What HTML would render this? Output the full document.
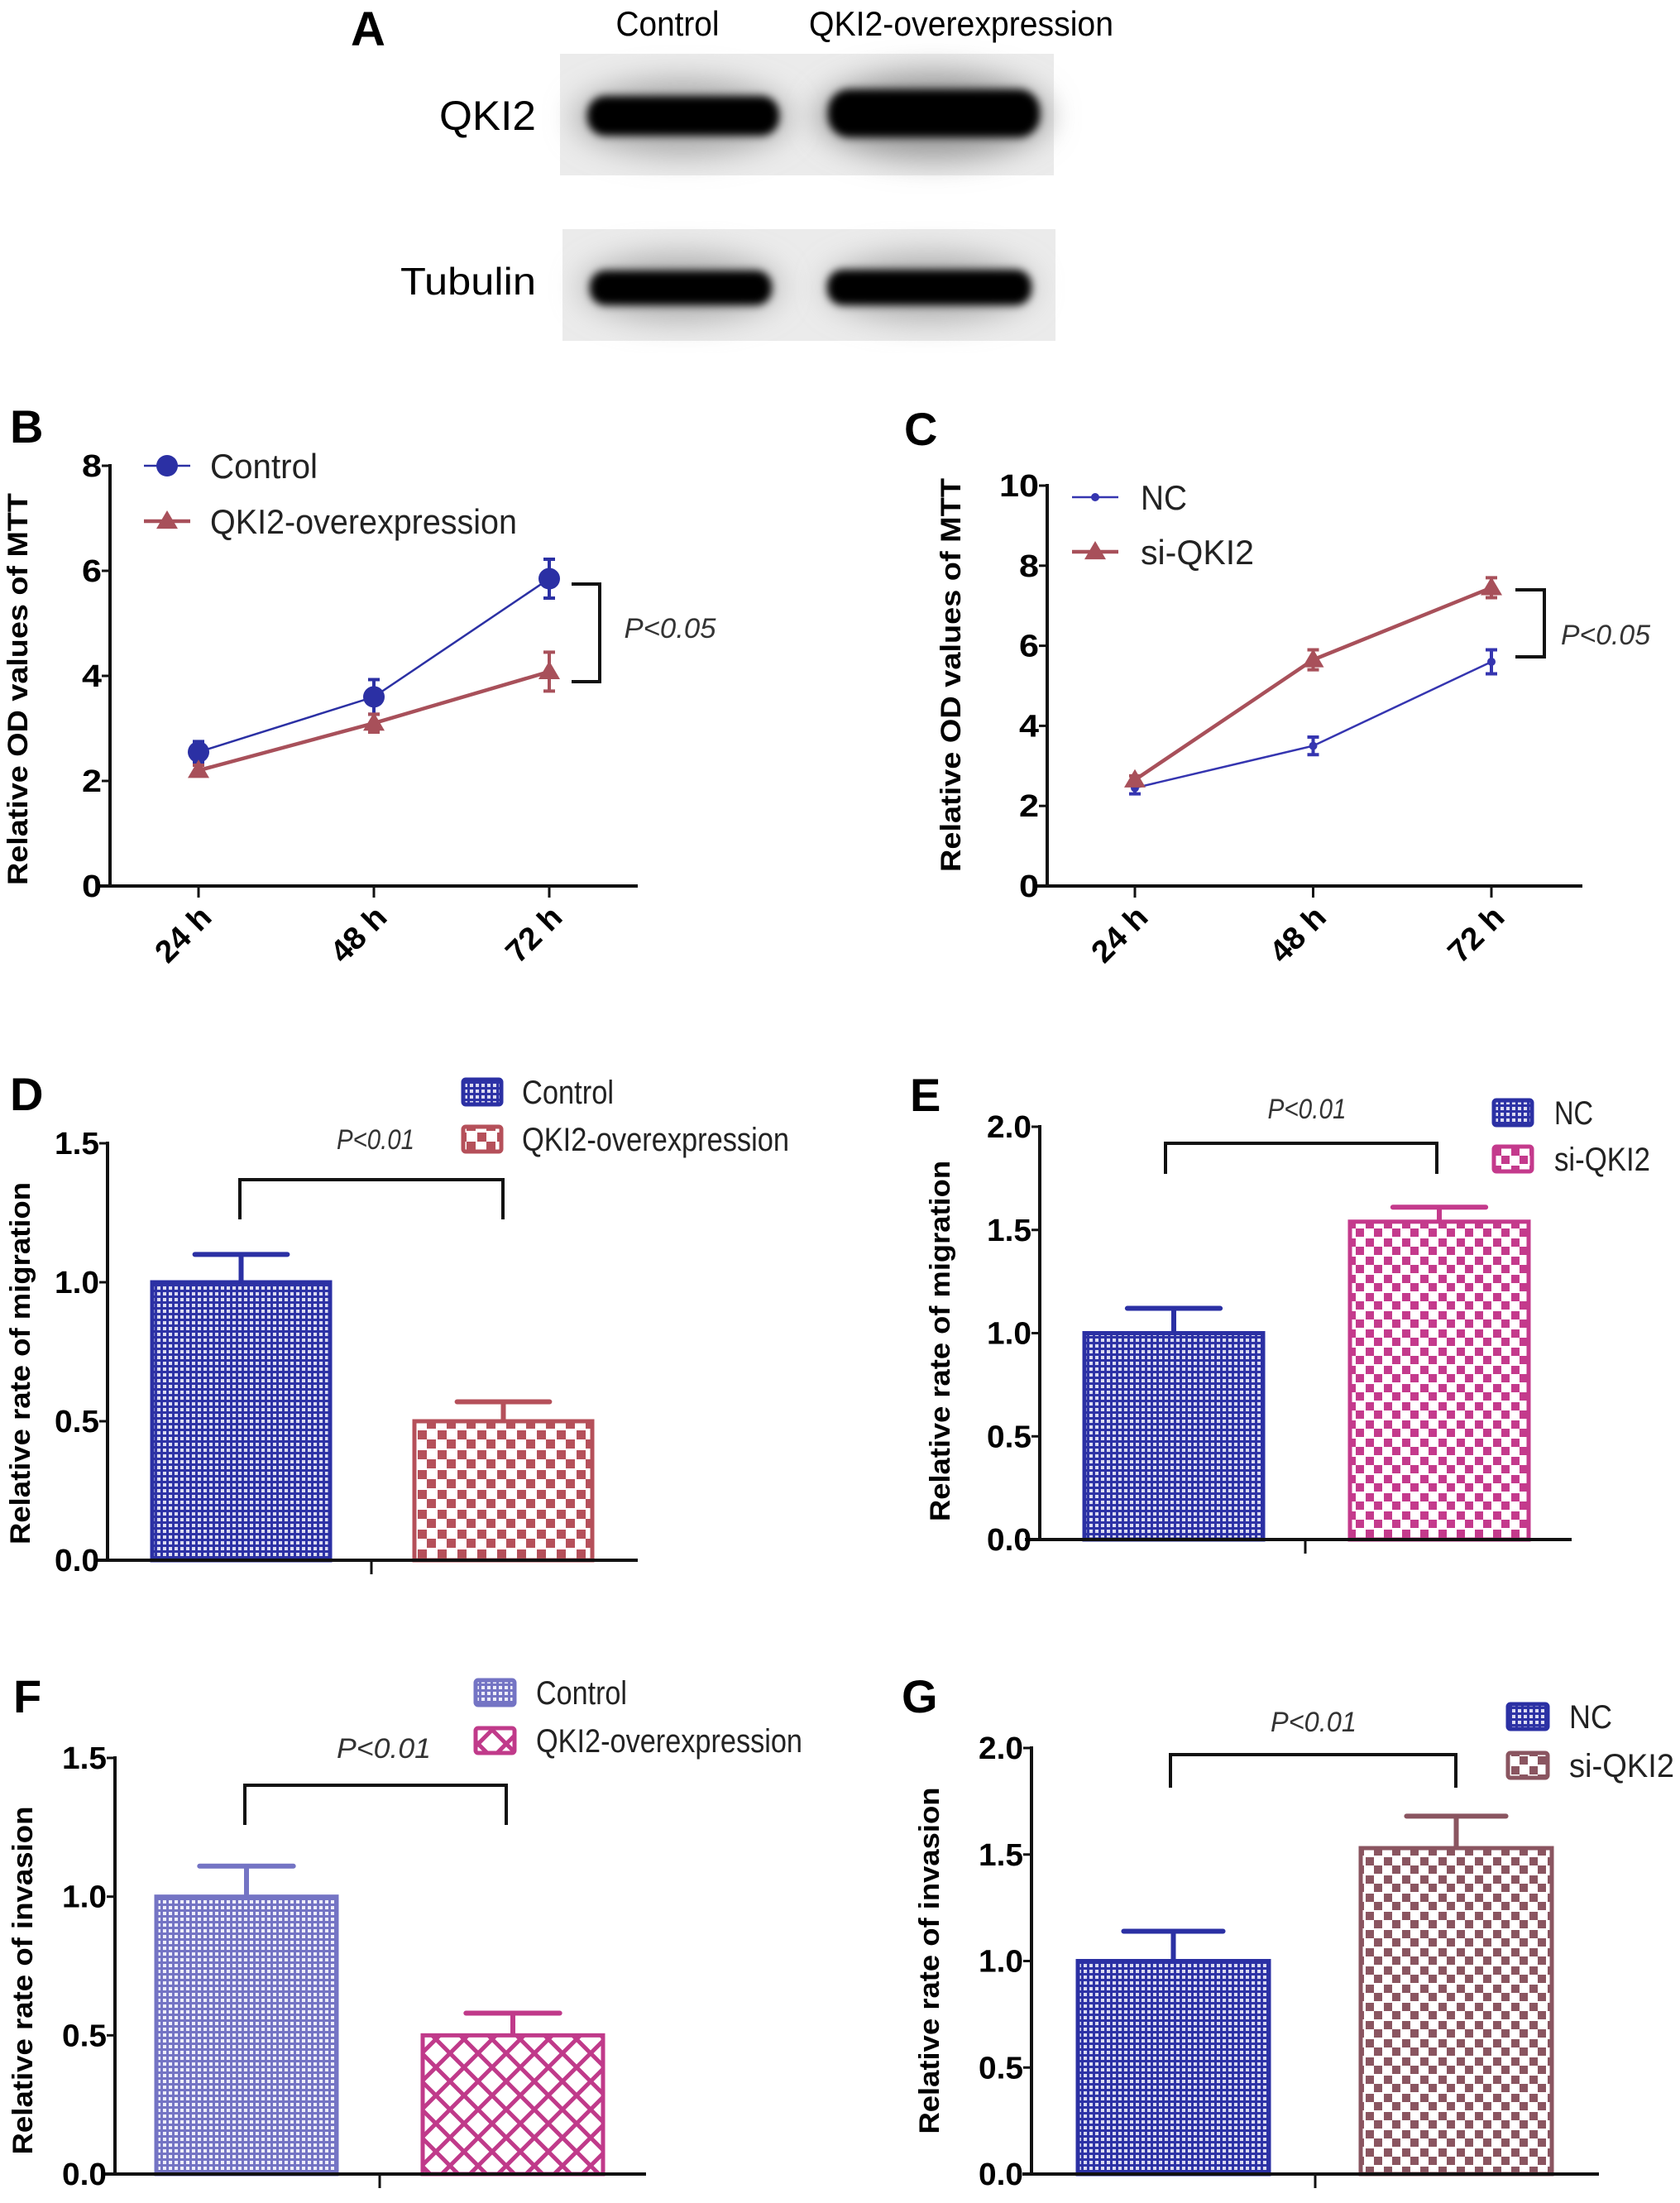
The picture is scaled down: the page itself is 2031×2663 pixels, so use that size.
<!DOCTYPE html>
<html><head><meta charset="utf-8">
<style>
html,body{margin:0;padding:0;background:#fff;}
svg{display:block;font-family:"Liberation Sans",sans-serif;}
</style></head>
<body>
<svg id="fig" width="2031" height="2663" viewBox="0 0 2031 2663" xmlns="http://www.w3.org/2000/svg">
<defs>
  <filter id="blur8" x="-20%" y="-50%" width="140%" height="200%"><feGaussianBlur stdDeviation="5"/></filter>
  <filter id="blur20" x="-20%" y="-50%" width="140%" height="200%"><feGaussianBlur stdDeviation="18"/></filter>
  <pattern id="dotBlue" width="7" height="7" patternUnits="userSpaceOnUse"><rect width="7" height="7" fill="#2e33a6"/><rect x="1" y="1" width="4" height="4" fill="#dcdcf2"/></pattern>
  <pattern id="dotLav" width="7" height="7" patternUnits="userSpaceOnUse"><rect width="7" height="7" fill="#7474c4"/><rect x="1" y="1" width="4" height="4" fill="#eeeefa"/></pattern>
  <pattern id="chkRed" width="24" height="24" patternUnits="userSpaceOnUse"><rect width="24" height="24" fill="#fff"/><rect x="1" y="1" width="11" height="11" fill="#b5505a"/><rect x="12" y="12" width="11" height="11" fill="#b5505a"/></pattern>
  <pattern id="chkPink" width="22" height="22" patternUnits="userSpaceOnUse"><rect width="22" height="22" fill="#fff"/><rect x="1" y="1" width="10" height="10" fill="#c43a8c"/><rect x="11" y="11" width="10" height="10" fill="#c43a8c"/></pattern>
  <pattern id="chkMauve" width="22" height="22" patternUnits="userSpaceOnUse"><rect width="22" height="22" fill="#fff"/><rect x="1" y="1" width="10" height="10" fill="#8a5560"/><rect x="11" y="11" width="10" height="10" fill="#8a5560"/></pattern>
  <pattern id="xhatch" width="34" height="34" patternUnits="userSpaceOnUse"><rect width="34" height="34" fill="#fff"/><path d="M0 0L34 34M34 0L0 34" stroke="#c03a8a" stroke-width="5"/></pattern>
</defs>

<!-- Panel A: western blot -->
<g>
  <text x="445" y="55" font-size="58" font-weight="bold" text-anchor="middle">A</text>
  <text x="807" y="43" font-size="42" text-anchor="middle" textLength="125" lengthAdjust="spacingAndGlyphs">Control</text>
  <text x="1162" y="43" font-size="42" text-anchor="middle" textLength="368" lengthAdjust="spacingAndGlyphs">QKI2-overexpression</text>
  <text x="648" y="157" font-size="50" text-anchor="end" textLength="117" lengthAdjust="spacingAndGlyphs">QKI2</text>
  <text x="648" y="356" font-size="46" text-anchor="end" textLength="164" lengthAdjust="spacingAndGlyphs">Tubulin</text>
  <g>
    <rect x="677" y="65" width="597" height="147" fill="#ebebeb"/>
    <ellipse cx="825" cy="142" rx="130" ry="45" fill="#aaa" filter="url(#blur20)"/>
    <ellipse cx="1128" cy="140" rx="140" ry="52" fill="#9a9a9a" filter="url(#blur20)"/>
    <rect x="710" y="116" width="232" height="48" rx="22" fill="#050505" filter="url(#blur8)"/>
    <rect x="1001" y="108" width="256" height="58" rx="26" fill="#030303" filter="url(#blur8)"/>
  </g>
  <g>
    <rect x="680" y="277" width="596" height="135" fill="#ebebeb"/>
    <ellipse cx="823" cy="347" rx="120" ry="40" fill="#b0b0b0" filter="url(#blur20)"/>
    <ellipse cx="1123" cy="347" rx="125" ry="40" fill="#b0b0b0" filter="url(#blur20)"/>
    <rect x="713" y="327" width="220" height="42" rx="19" fill="#050505" filter="url(#blur8)"/>
    <rect x="1000" y="326" width="247" height="43" rx="19" fill="#050505" filter="url(#blur8)"/>
  </g>
</g>

<g id="charts"></g>
</svg>

<script>
// ---------- data ----------
const timeLabels = ["24 h", "48 h", "72 h"];
const bControl = [2.55, 3.6, 5.85];
const bControlErr = [0.2, 0.33, 0.37];
const bOver = [2.2, 3.1, 4.08];
const bOverErr = [0.1, 0.17, 0.37];
const bTicks = [0, 2, 4, 6, 8];
const cNC = [2.45, 3.5, 5.6];
const cNCErr = [0.15, 0.22, 0.3];
const cSi = [2.65, 5.65, 7.45];
const cSiErr = [0.1, 0.25, 0.25];
const cTicks = [0, 2, 4, 6, 8, 10];
const dVals = [1.0, 0.5];
const dErr = [0.1, 0.07];
const eVals = [1.0, 1.54];
const eErr = [0.12, 0.07];
const fVals = [1.0, 0.5];
const fErr = [0.11, 0.08];
const gVals = [1.0, 1.53];
const gErr = [0.14, 0.15];
const ticks15 = [0, 0.5, 1.0, 1.5];
const ticks20 = [0, 0.5, 1.0, 1.5, 2.0];

const NS = "http://www.w3.org/2000/svg";
const root = document.getElementById("charts");
function mk(tag, attrs, parent) {
  const el = document.createElementNS(NS, tag);
  for (const k in attrs) el.setAttribute(k, attrs[k]);
  (parent || root).appendChild(el);
  return el;
}
function txt(parent, x, y, s, size, opts) {
  const el = mk("text", Object.assign({x: x, y: y, "font-size": size}, opts || {}), parent);
  el.textContent = s;
  return el;
}

function frame(g, c) {
  let el = mk("line", {x1: c.ax, y1: c.yTop - 2, x2: c.ax, y2: c.y0 + 2, stroke: "#111", "stroke-width": 4}, g);
  
  
  el = mk("line", {x1: c.xStart, y1: c.y0, x2: c.xEnd, y2: c.y0, stroke: "#111", "stroke-width": 4}, g);
  
  
  c.ticks.forEach((t, i) => {
    const y = c.ys(t);
    const tk = mk("line", {x1: c.ax - 10, y1: y, x2: c.ax, y2: y, stroke: "#111", "stroke-width": 3}, g);
    
    
    const lb = txt(g, c.ax - 10, y + 13, c.tickFmt(t), 38, {"font-weight": "bold", "text-anchor": "end", textLength: c.tickW(t), lengthAdjust: "spacingAndGlyphs"});
    
    
  });
  const t = txt(g, 0, 0, c.title, 34, {"font-weight": "bold", "text-anchor": "middle", textLength: c.titleLen, lengthAdjust: "spacingAndGlyphs", transform: "translate(" + c.titleX + "," + c.titleY + ") rotate(-90)"});
  
  
  const L = txt(g, c.letterX, c.letterY, c.letter, 56, {"font-weight": "bold"});
  
  
}

function pText(g, x, y, s, w) {
  const p = txt(g, x, y, s, 34, {"font-style": "italic", "text-anchor": "middle", fill: "#333", textLength: w, lengthAdjust: "spacingAndGlyphs"});
  
  
}

// ---------- line charts ----------
function lineChart(c) {
  const g = mk("g", {});
  
  
  c.ys = v => c.y0 - v * (c.y0 - c.yTop) / c.max;
  c.xs = i => c.x0 + i * c.step;
  c.tickFmt = t => String(t);
  c.tickW = t => String(t).length * 24;
  frame(g, c);
  timeLabels.forEach((s, i) => {
    const x = c.xs(i);
    const tk = mk("line", {x1: x, y1: c.y0, x2: x, y2: c.y0 + 14, stroke: "#111", "stroke-width": 3}, g);
    
    
    const lb = txt(g, 0, 0, s, 38, {"font-weight": "bold", "text-anchor": "end", textLength: 78, lengthAdjust: "spacingAndGlyphs", transform: "translate(" + (x + 18) + "," + (c.y0 + 40) + ") rotate(-45)"});
    
    
  });
  c.series.forEach(s => {
    const sg = mk("g", {}, g);
    
    
    const pts = s.vals.map((v, i) => c.xs(i) + "," + c.ys(v)).join(" ");
    const pl = mk("polyline", {points: pts, fill: "none", stroke: s.color, "stroke-width": s.lw}, sg);
    
    
    s.vals.forEach((v, i) => {
      const x = c.xs(i), e = s.err[i];
      const eb = mk("path", {d: "M" + x + " " + c.ys(v - e) + "V" + c.ys(v + e) + "M" + (x - 7) + " " + c.ys(v - e) + "H" + (x + 7) + "M" + (x - 7) + " " + c.ys(v + e) + "H" + (x + 7), stroke: s.color, "stroke-width": 4, fill: "none"}, sg);
      
      
      const m = marker(sg, s.shape, x, c.ys(v), s.size, s.color);
      
      
    });
    const lg = mk("g", {}, g);
    
    
    mk("line", {x1: s.lx - 28, y1: s.ly, x2: s.lx + 28, y2: s.ly, stroke: s.color, "stroke-width": s.lw}, lg);
    marker(lg, s.shape, s.lx, s.ly, s.size, s.color);
    txt(lg, s.tx, s.ly + 15, s.label, 42, {textLength: s.tw, lengthAdjust: "spacingAndGlyphs", fill: "#222"});
  });
  const br = mk("path", {d: "M" + c.br[0] + " " + c.br[2] + "H" + c.br[1] + "V" + c.br[3] + "H" + c.br[0], stroke: "#111", "stroke-width": 4, fill: "none"}, g);
  
  
  pText(g, c.pX, c.pY, c.pLabel, c.pW);
}
function marker(g, shape, x, y, s, color) {
  if (shape === "circle") return mk("circle", {cx: x, cy: y, r: s, fill: color}, g);
  return mk("path", {d: "M" + x + " " + (y - s) + "L" + (x + s) + " " + (y + s * 0.7) + "L" + (x - s) + " " + (y + s * 0.7) + "Z", fill: color}, g);
}

lineChart({name: "panel-b-mtt-line-chart", ax: 133, y0: 1071, yTop: 563, max: 8, ticks: bTicks,
  xStart: 118, xEnd: 771, x0: 240, step: 212,
  title: "Relative OD values of MTT", titleX: 33, titleY: 833, titleLen: 474,
  letter: "B", letterX: 12, letterY: 535,
  series: [
    {key: "control", vals: bControl, err: bControlErr, color: "#2b30a4", lw: 2.5, shape: "circle", size: 13, lx: 202, ly: 563, tx: 254, tw: 130, label: "Control"},
    {key: "qki2-overexpression", vals: bOver, err: bOverErr, color: "#a8505a", lw: 4.5, shape: "tri", size: 13, lx: 202, ly: 630, tx: 254, tw: 371, label: "QKI2-overexpression"}],
  br: [691, 725, 706, 824], pX: 810, pY: 771, pLabel: "P<0.05", pW: 111});

lineChart({name: "panel-c-mtt-line-chart", ax: 1266, y0: 1071, yTop: 587, max: 10, ticks: cTicks,
  xStart: 1252, xEnd: 1913, x0: 1372, step: 215.5,
  title: "Relative OD values of MTT", titleX: 1161, titleY: 816, titleLen: 476,
  letter: "C", letterX: 1093, letterY: 538,
  series: [
    {key: "nc", vals: cNC, err: cNCErr, color: "#3535b0", lw: 2.5, shape: "circle", size: 5, lx: 1324, ly: 601, tx: 1379, tw: 56, label: "NC"},
    {key: "si-qki2", vals: cSi, err: cSiErr, color: "#a8505a", lw: 4.5, shape: "tri", size: 13, lx: 1324, ly: 667, tx: 1379, tw: 137, label: "si-QKI2"}],
  br: [1832, 1867, 713, 794], pX: 1941, pY: 779, pLabel: "P<0.05", pW: 108});

// ---------- bar charts ----------
function barChart(c) {
  const g = mk("g", {});
  
  
  c.ys = v => c.y0 - v * (c.y0 - c.yTop) / c.max;
  c.tickFmt = t => t.toFixed(1);
  c.tickW = t => 54;
  c.vals.forEach((v, i) => {
    const x = c.bx[i], w = c.bw;
    const top = c.ys(v), et = c.ys(v + c.err[i]);
    const eb = mk("path", {d: "M" + (x + w / 2) + " " + top + "V" + et + "M" + (x + w / 2 - w * 0.26) + " " + et + "H" + (x + w / 2 + w * 0.26), stroke: c.colors[i], "stroke-width": 6, "stroke-linecap": "round", fill: "none"}, g);
    
    
    const r = mk("rect", {x: x, y: top, width: w, height: c.y0 - top, fill: c.fills[i], stroke: c.colors[i], "stroke-width": 5}, g);
    
    
    const lg = mk("g", {}, g);
    
    
    const ly = c.legY[i];
    mk("rect", {x: c.legX + 2, y: ly - 15, width: c.legW - 4, height: 30, rx: 3, fill: c.fills[i], stroke: c.colors[i], "stroke-width": 5}, lg);
    txt(lg, c.legTX, ly + 14, c.labels[i], 40, {textLength: c.legTW[i], lengthAdjust: "spacingAndGlyphs", fill: "#222"});
  });
  frame(g, c);
  const tk = mk("line", {x1: c.midX, y1: c.y0, x2: c.midX, y2: c.y0 + 17, stroke: "#111", "stroke-width": 3}, g);
  
  
  const br = mk("path", {d: "M" + c.br[0] + " " + c.br[3] + "V" + c.br[2] + "H" + c.br[1] + "V" + c.br[3], stroke: "#111", "stroke-width": 4, fill: "none"}, g);
  
  
  pText(g, c.pX, c.pY, "P<0.01", c.pW);
}

barChart({name: "panel-d-migration-bar-chart", ax: 130, y0: 1886, yTop: 1382, max: 1.5, ticks: ticks15,
  xStart: 118, xEnd: 771, midX: 449, vals: dVals, err: dErr, bx: [184, 501], bw: 215,
  keys: ["control", "qki2-overexpression"], labels: ["Control", "QKI2-overexpression"],
  colors: ["#2b30a4", "#b5505a"], fills: ["url(#dotBlue)", "url(#chkRed)"],
  legX: 558, legW: 50, legY: [1320, 1377], legTX: 631, legTW: [111, 323],
  title: "Relative rate of migration", titleX: 36, titleY: 1648, titleLen: 438,
  letter: "D", letterX: 12, letterY: 1342,
  br: [290, 608, 1426, 1474], pX: 454, pY: 1389, pW: 94});

barChart({name: "panel-e-migration-bar-chart", ax: 1257, y0: 1861, yTop: 1362, max: 2.0, ticks: ticks20,
  xStart: 1239, xEnd: 1900, midX: 1578, vals: eVals, err: eErr, bx: [1311, 1632], bw: 216,
  keys: ["nc", "si-qki2"], labels: ["NC", "si-QKI2"],
  colors: ["#2b30a4", "#c43a8c"], fills: ["url(#dotBlue)", "url(#chkPink)"],
  legX: 1804, legW: 50, legY: [1345, 1401], legTX: 1879, legTW: [47, 116],
  title: "Relative rate of migration", titleX: 1148, titleY: 1621, titleLen: 436,
  letter: "E", letterX: 1100, letterY: 1343,
  br: [1409, 1737, 1382, 1419], pX: 1580, pY: 1352, pW: 95});

barChart({name: "panel-f-invasion-bar-chart", ax: 139, y0: 2628, yTop: 2125, max: 1.5, ticks: ticks15,
  xStart: 127, xEnd: 781, midX: 459, vals: fVals, err: fErr, bx: [189, 511], bw: 218,
  keys: ["control", "qki2-overexpression"], labels: ["Control", "QKI2-overexpression"],
  colors: ["#7474c4", "#c03a8a"], fills: ["url(#dotLav)", "url(#xhatch)"],
  legX: 573, legW: 51, legY: [2046, 2104], legTX: 648, legTW: [110, 322],
  title: "Relative rate of invasion", titleX: 39, titleY: 2394, titleLen: 421,
  letter: "F", letterX: 16, letterY: 2070,
  br: [296, 612, 2158, 2206], pX: 464, pY: 2125, pW: 114});

barChart({name: "panel-g-invasion-bar-chart", ax: 1247, y0: 2628, yTop: 2113, max: 2.0, ticks: ticks20,
  xStart: 1236, xEnd: 1933, midX: 1590, vals: gVals, err: gErr, bx: [1303, 1645], bw: 231,
  keys: ["nc", "si-qki2"], labels: ["NC", "si-QKI2"],
  colors: ["#2b30a4", "#8a5560"], fills: ["url(#dotBlue)", "url(#chkMauve)"],
  legX: 1821, legW: 52, legY: [2075, 2134], legTX: 1897, legTW: [52, 127],
  title: "Relative rate of invasion", titleX: 1135, titleY: 2370, titleLen: 419,
  letter: "G", letterX: 1090, letterY: 2070,
  br: [1415, 1760, 2121, 2161], pX: 1588, pY: 2093, pW: 104});
</script>
</body></html>
